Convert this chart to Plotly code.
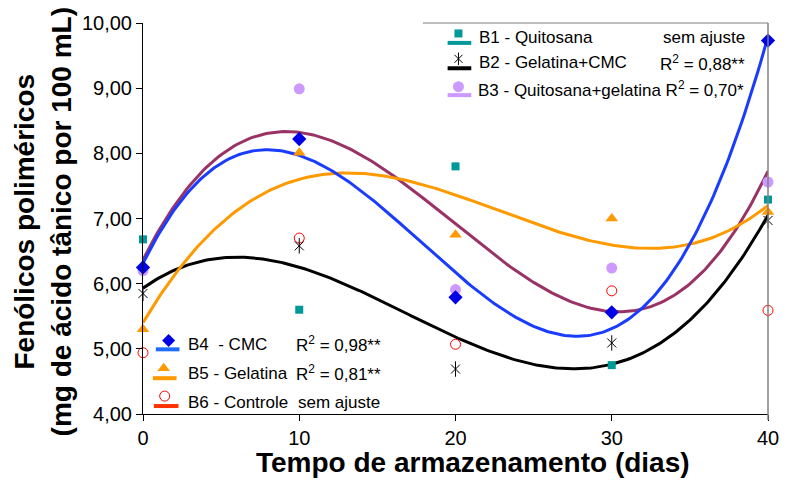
import numpy as np
import plotly.graph_objects as go

# Storage time (days)
dias = [0, 10, 20, 30, 40]

# Polymeric phenolics (mg tannic acid / 100 mL) per treatment
b1_quitosana = [6.68, 5.60, 7.80, 4.75, 7.29]
b2_gel_cmc = [5.85, 6.58, 4.69, 5.09, 6.97]
b3_quit_gel = [6.20, 8.99, 5.91, 6.24, 7.56]
b4_cmc = [6.25, 8.22, 5.79, 5.56, 9.73]
b5_gelatina = [5.30, 8.01, 6.75, 7.00, 7.10]
b6_controle = [4.94, 6.70, 5.07, 5.89, 5.59]

y_ticks = [4, 5, 6, 7, 8, 9, 10]
y_ticktext = ["4,00", "5,00", "6,00", "7,00", "8,00", "9,00", "10,00"]
x_ticks = [0, 10, 20, 30, 40]

FONT = "Liberation Sans, Arial, sans-serif"

TEAL = "#009999"
LAVENDER = "#CC99FF"
PLUM = "#993366"
BLUE_M = "#0000E6"
BLUE_L = "#1A3CFF"
ORANGE = "#FF9900"
RED = "#FF0000"

# plot-area frame in page pixels
PX_L, PX_R, PX_T, PX_B = 143, 777, 21, 414


def paper_x(px):
    return (px - PX_L) / (PX_R - PX_L)


def paper_y(py):
    return (PX_B - py) / (PX_B - PX_T)


fig = go.Figure()

# Third-order polynomial trend lines for the fitted treatments
xs = np.linspace(0, 40, 241)
for ys, color in [(b2_gel_cmc, "#000000"), (b3_quit_gel, PLUM),
                  (b5_gelatina, ORANGE), (b4_cmc, BLUE_L)]:
    coef = np.polyfit(dias, ys, 3)
    fig.add_trace(go.Scatter(x=xs, y=np.polyval(coef, xs), mode="lines",
                             line=dict(color=color, width=3), showlegend=False,
                             hoverinfo="skip"))


# Observed means
def pts(y, symbol, color, size, lw=0, lc=None):
    fig.add_trace(go.Scatter(
        x=dias, y=y, mode="markers", cliponaxis=False, showlegend=False,
        marker=dict(symbol=symbol, color=color, size=size,
                    line=dict(width=lw, color=lc or color))))


pts(b1_quitosana, "square", TEAL, 8)
pts(b3_quit_gel, "circle", LAVENDER, 11)
pts(b4_cmc, "diamond", BLUE_M, 11)
pts(b5_gelatina, "triangle-up", ORANGE, 11)
pts(b6_controle, "circle-open", RED, 10, 1, RED)
pts(b2_gel_cmc, "x-thin-open", "#000000", 9, 1, "#000000")
pts(b2_gel_cmc, "line-ns-open", "#000000", 11, 1, "#000000")


# Legend keys, laid out on a pixel-scaled overlay axis
def key_line(x0, x1, y, color):
    fig.add_trace(go.Scatter(x=[x0, x1], y=[y, y], xaxis="x2", yaxis="y2",
                             mode="lines", line=dict(color=color, width=4),
                             showlegend=False, hoverinfo="skip", cliponaxis=False))


def key_mark(x, y, symbol, color, size, lw=0):
    fig.add_trace(go.Scatter(x=[x], y=[y], xaxis="x2", yaxis="y2", mode="markers",
                             marker=dict(symbol=symbol, color=color, size=size,
                                         line=dict(width=lw, color=color)),
                             showlegend=False, hoverinfo="skip", cliponaxis=False))


key_line(452, 476, 41, TEAL)
key_mark(463, 31.5, "square", TEAL, 8)
key_line(452, 476, 66.5, "#000000")
key_mark(463, 57, "x-thin-open", "#000000", 8, 1)
key_mark(463, 57, "line-ns-open", "#000000", 9, 1)
key_line(452, 476, 93.5, LAVENDER)
key_mark(463, 85, "circle", LAVENDER, 11)

key_line(156, 180, 349, "#1E6BFF")
key_mark(169, 340, "diamond", BLUE_M, 10)
key_line(153, 177, 378, ORANGE)
key_mark(164, 368, "triangle-up", ORANGE, 11)
key_line(154, 179, 406, "#FF3300")
key_mark(165, 396, "circle-open", RED, 10, 1)

annotations = []


def txt(x, y, s, anchor="left", size=17):
    annotations.append(dict(x=paper_x(x), y=paper_y(y), xref="paper", yref="paper",
                            text=s, showarrow=False, xanchor=anchor, yanchor="middle",
                            font=dict(family=FONT, size=size, color="#000000")))


txt(482, 36, "B1 - Quitosana")
txt(756, 36, "sem ajuste", "right")
txt(482, 61, "B2 - Gelatina+CMC")
txt(756, 61, "R<sup>2</sup> = 0,88**", "right")
txt(481, 87.5, "B3 - Quitosana+gelatina R<sup>2</sup> = 0,70*")

txt(187, 344, "B4\u00a0\u00a0- CMC")
txt(296, 344, "R<sup>2</sup> = 0,98**")
txt(187, 373, "B5 - Gelatina")
txt(296, 373, "R<sup>2</sup> = 0,81**")
txt(187, 402, "B6 - Controle")
txt(298, 402, "sem ajuste")

# Axis titles
annotations.append(dict(x=paper_x(478), y=paper_y(463), xref="paper", yref="paper",
                        showarrow=False,
                        text="<b>Tempo de armazenamento (dias)</b>",
                        xanchor="center", yanchor="middle",
                        font=dict(family=FONT, size=28, color="#000000")))
annotations.append(dict(x=paper_x(42), y=paper_y(221), xref="paper", yref="paper",
                        showarrow=False, textangle=-90,
                        text="<b>Fenólicos poliméricos<br>(mg de ácido tânico por 100 mL)</b>",
                        xanchor="center", yanchor="middle",
                        font=dict(family=FONT, size=28, color="#000000")))

shapes = [
    dict(type="line", xref="paper", yref="paper", x0=paper_x(427), x1=1, y0=1, y1=1,
         line=dict(color="#808080", width=1)),
    dict(type="line", xref="paper", yref="paper", x0=1, x1=1, y0=paper_y(420), y1=1,
         line=dict(color="#808080", width=1.5)),
]

fig.update_layout(
    width=791, height=480,
    margin=dict(l=PX_L, r=791 - PX_R, t=PX_T, b=480 - PX_B),
    paper_bgcolor="white", plot_bgcolor="white",
    font=dict(family=FONT, color="#000000"),
    annotations=annotations, shapes=shapes,
    xaxis=dict(range=[0, 40], tickvals=x_ticks, ticks="outside", ticklen=6,
               tickcolor="#000000", showline=True, linecolor="#000000", linewidth=1,
               showgrid=False, zeroline=False, tickfont=dict(size=20),
               ticklabelstandoff=0),
    yaxis=dict(range=[4, 10], tickvals=y_ticks, ticktext=y_ticktext, ticks="outside",
               ticklen=6, tickcolor="#000000", showline=True, linecolor="#000000",
               linewidth=1, showgrid=False, zeroline=False, tickfont=dict(size=20)),
    xaxis2=dict(overlaying="x", anchor="y2", range=[PX_L, PX_R], visible=False),
    yaxis2=dict(overlaying="y", anchor="x2", range=[PX_B, PX_T], visible=False),
    showlegend=False,
)

fig.write_html("out.html")
